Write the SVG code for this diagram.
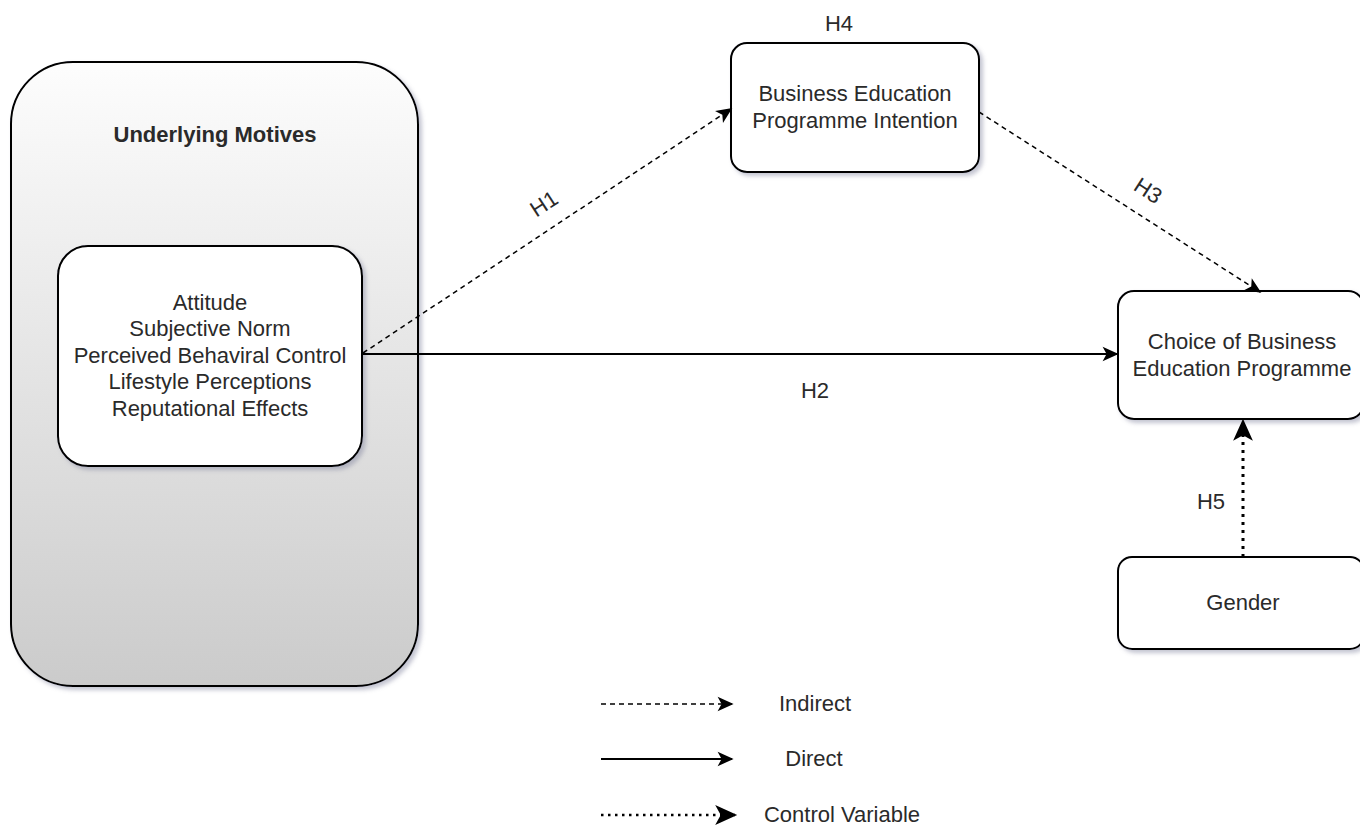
<svg xmlns="http://www.w3.org/2000/svg" width="1360" height="825" viewBox="0 0 1360 825">
<defs>
  <linearGradient id="gOuter" x1="0" y1="0" x2="0" y2="1">
    <stop offset="0" stop-color="#fdfdfd"/>
    <stop offset="1" stop-color="#cbcbcb"/>
  </linearGradient>
  <filter id="sh" x="-10%" y="-10%" width="130%" height="130%">
    <feDropShadow dx="3" dy="3" stdDeviation="2" flood-color="#7a7f9a" flood-opacity="0.45"/>
  </filter>
  <marker id="ahL" viewBox="0 0 10 10" refX="9" refY="5" markerWidth="16" markerHeight="16" markerUnits="userSpaceOnUse" orient="auto" overflow="visible">
    <path d="M0,0.5 L10,5 L0,9.5 L2.5,5 Z" fill="#000"/>
  </marker>
  <marker id="ahB" viewBox="0 0 10 10" refX="9" refY="5" markerWidth="22" markerHeight="22" markerUnits="userSpaceOnUse" orient="auto" overflow="visible">
    <path d="M0,0.5 L10,5 L0,9.5 L2.5,5 Z" fill="#000"/>
  </marker>
</defs>
<style>
  .box { fill: #fff; stroke: #000; stroke-width: 2; }
  .t { font-family: "Liberation Sans", Arial, sans-serif; font-size: 22px; fill: #2a2a2a; text-anchor: middle; }
  .b { font-weight: bold; }
  .dash { fill: none; stroke: #000; stroke-width: 1.5; stroke-dasharray: 5 4; }
  .solid { fill: none; stroke: #000; stroke-width: 2; }
  .dot { fill: none; stroke: #000; stroke-width: 3; stroke-dasharray: 3 5; }
  .ldot { fill: none; stroke: #000; stroke-width: 2.5; stroke-dasharray: 2.5 4.5; }
</style>

<g id="underlying-motives">
  <rect x="11" y="62" width="407" height="624" rx="62" ry="62" fill="url(#gOuter)" stroke="#000" stroke-width="2" filter="url(#sh)"/>
  <text class="t b" x="215" y="142">Underlying Motives</text>
</g>

<g id="motives-list">
  <rect class="box" x="58" y="246" width="304" height="220" rx="30" ry="30" filter="url(#sh)"/>
  <text class="t" x="210" y="310">Attitude</text>
  <text class="t" x="210" y="336">Subjective Norm</text>
  <text class="t" x="210" y="363">Perceived Behaviral Control</text>
  <text class="t" x="210" y="389">Lifestyle Perceptions</text>
  <text class="t" x="210" y="416">Reputational Effects</text>
</g>

<g id="intention">
  <rect class="box" x="731" y="43" width="248" height="129" rx="16" ry="16" filter="url(#sh)"/>
  <text class="t" x="855" y="101">Business Education</text>
  <text class="t" x="855" y="128">Programme Intention</text>
</g>

<g id="choice">
  <rect class="box" x="1118" y="291" width="246" height="128" rx="16" ry="16" filter="url(#sh)"/>
  <text class="t" x="1242" y="349">Choice of Business</text>
  <text class="t" x="1242" y="376">Education Programme</text>
</g>

<g id="gender">
  <rect class="box" x="1118" y="557" width="246" height="92" rx="14" ry="14" filter="url(#sh)"/>
  <text class="t" x="1243" y="610">Gender</text>
</g>

<g id="connectors">
  <line class="dash" x1="363" y1="353" x2="731" y2="109" marker-end="url(#ahL)"/>
  <line class="solid" x1="362" y1="354" x2="1117" y2="354" marker-end="url(#ahL)"/>
  <line class="dash" x1="979" y1="112" x2="1260" y2="292" marker-end="url(#ahL)"/>
  <line class="dot" x1="1243" y1="557" x2="1243" y2="421" marker-end="url(#ahB)"/>
</g>

<g id="labels">
  <text class="t" x="839" y="31">H4</text>
  <text class="t" x="815" y="398">H2</text>
  <text class="t" x="1211" y="509">H5</text>
  <text class="t" transform="translate(548,210) rotate(-33)">H1</text>
  <text class="t" transform="translate(1144,197) rotate(33)">H3</text>
</g>

<g id="legend">
  <line class="dash" x1="601" y1="704" x2="732" y2="704" stroke-dasharray="4 3" marker-end="url(#ahL)"/>
  <text class="t" x="815" y="711">Indirect</text>
  <line class="solid" x1="601" y1="759" x2="732" y2="759" marker-end="url(#ahL)"/>
  <text class="t" x="814" y="766">Direct</text>
  <line class="ldot" x1="601" y1="815" x2="735" y2="815" marker-end="url(#ahB)"/>
  <text class="t" x="842" y="822">Control Variable</text>
</g>
</svg>
